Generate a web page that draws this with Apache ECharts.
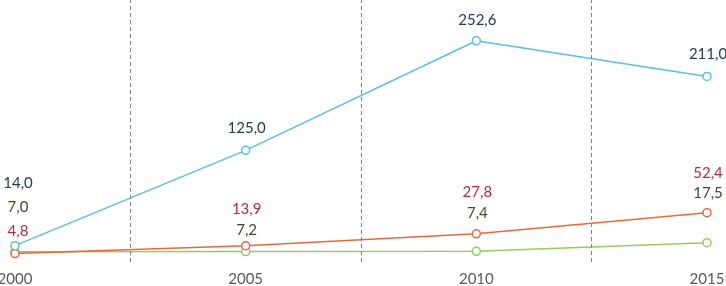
<!DOCTYPE html>
<html>
<head>
<meta charset="utf-8">
<script src="https://cdn.jsdelivr.net/npm/echarts@6/dist/echarts.min.js"></script>
<style>
  html, body { margin: 0; padding: 0; background: #fff; }
  #chart { width: 726px; height: 286px; }
</style>
</head>
<body>
<div id="chart"></div>
<script>
// Data
const years = ['2000', '2005', '2010', '2015'];
const blueValues = [14.0, 125.0, 252.6, 211.0];
const redValues = [4.8, 13.9, 27.8, 52.4];
const greenValues = [7.0, 7.2, 7.4, 17.5];

// label lift above each point (px), per series
const blueLift = [63, 22, 21, 22];
const redLift = [22, 37, 42, 40];
const greenLift = [45, 21, 38, 50];
// small horizontal nudge per column
const labelShift = [3, 1, 1, 1];

const fmt = (v) => v.toFixed(1).replace('.', ',');
const toXY = (arr) => arr.map((v, i) => [i, v]);

function buildSeries(name, values, lift, lineColor, labelColor, z) {
  return {
    name,
    type: 'line',
    z,
    data: toXY(values).map((p, i) => ({
      value: p,
      label: { offset: [labelShift[i], -lift[i]] }
    })),
    symbol: 'circle',
    symbolSize: 8,
    showAllSymbol: true,
    lineStyle: { color: lineColor, width: 1.5 },
    itemStyle: { color: '#fff', borderColor: lineColor, borderWidth: 1.5 },
    label: {
      show: true,
      position: 'inside',
      color: labelColor,
      fontFamily: 'Lato',
      fontSize: 15,
      formatter: (p) => fmt(p.value[1])
    },
    emphasis: { disabled: true }
  };
}

const chart = echarts.init(document.getElementById('chart'), null, { renderer: 'canvas' });
const dashed = [0.5, 1.5, 2.5].map((x) => ({ xAxis: x }));

chart.setOption({
  animation: false,
  grid: { left: 15, right: 19, top: 0, bottom: 24, containLabel: false, outerBoundsMode: 'none' },
  xAxis: {
    type: 'value',
    min: 0,
    max: 3,
    interval: 1,
    axisLine: { show: false },
    axisTick: { show: false },
    splitLine: { show: false },
    axisLabel: {
      color: '#595959',
      fontFamily: 'Lato',
      fontSize: 15,
      margin: 10,
      formatter: (v) => years[v] || ''
    }
  },
  yAxis: { type: 'value', min: -5, max: 300, show: false },
  series: [
    Object.assign(buildSeries('green', greenValues, greenLift, '#92cf5a', '#3b4a2e', 2), {
      markLine: {
        silent: true,
        symbol: 'none',
        label: { show: false },
        lineStyle: { color: '#808080', width: 1, type: [4, 3] },
        data: dashed
      }
    }),
    buildSeries('red', redValues, redLift, '#f0643c', '#c0283a', 3),
    buildSeries('blue', blueValues, blueLift, '#56c0e8', '#1f3864', 4)
  ]
});
</script>
</body>
</html>
